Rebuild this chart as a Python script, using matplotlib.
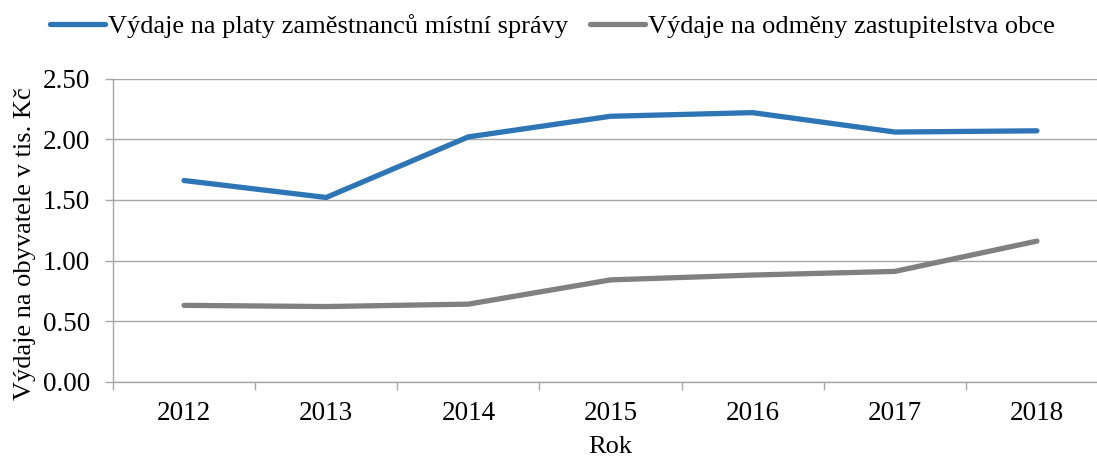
import matplotlib as mpl
mpl.use("Agg")
import matplotlib.pyplot as plt
from matplotlib.ticker import FixedLocator, FormatStrFormatter

years = ["2012", "2013", "2014", "2015", "2016", "2017", "2018"]
platy = [1.66, 1.52, 2.02, 2.19, 2.22, 2.06, 2.07]
odmeny = [0.63, 0.62, 0.64, 0.84, 0.88, 0.91, 1.16]
labels = ["Výdaje na platy zaměstnanců místní správy",
          "Výdaje na odměny zastupitelstva obce"]

mpl.rcParams.update({
    "font.family": ["Liberation Serif", "DejaVu Serif"],
    "font.size": 19,
})
GRID = "#A6A6A6"

fig = plt.figure(figsize=(10.97, 4.63), dpi=100)
# plot area runs slightly past the right edge, as in the source image
ax = fig.add_axes([0.1030, 0.1756, 0.907, 0.6544])

x = range(len(years))
ax.plot(x, platy, color="#2E75B6", lw=3.8, solid_capstyle="round",
        solid_joinstyle="round", label=labels[0])
ax.plot(x, odmeny, color="#808080", lw=3.8, solid_capstyle="round",
        solid_joinstyle="round", label=labels[1])

ax.set_xlim(-0.5, len(years) - 0.5)
ax.set_ylim(0, 2.5)
ax.set_yticks([0, 0.5, 1.0, 1.5, 2.0, 2.5])
ax.yaxis.set_major_formatter(FormatStrFormatter("%.2f"))
ax.set_xticks(list(x))
ax.set_xticklabels(years)
ax.xaxis.set_minor_locator(FixedLocator([i - 0.5 for i in range(len(years) + 1)]))
ax.tick_params(axis="x", which="major", length=0, pad=14, labelsize=19.5)
ax.tick_params(axis="x", which="minor", length=5.5, color=GRID, width=1)
ax.tick_params(axis="y", length=6, color=GRID, width=1, pad=10.5, labelsize=19.5)
ax.grid(axis="y", color=GRID, lw=1)
ax.set_axisbelow(True)
for s in ("top", "right"):
    ax.spines[s].set_visible(False)
for s in ("left", "bottom"):
    ax.spines[s].set_color(GRID)
    ax.spines[s].set_linewidth(1)

ax.set_xlabel("Rok")
ax.xaxis.set_label_coords(0.5, -0.18)
ax.set_ylabel("Výdaje na obyvatele v tis. Kč")
ax.yaxis.set_label_coords(-0.077, 0.455)

fig.legend(loc="center left", bbox_to_anchor=(50 / 1097, 1 - 26 / 463), ncol=2,
           frameon=False, handlelength=2.08, handletextpad=0.11,
           columnspacing=0.83, borderpad=0, borderaxespad=0)

fig.savefig("out.png", dpi=100)
